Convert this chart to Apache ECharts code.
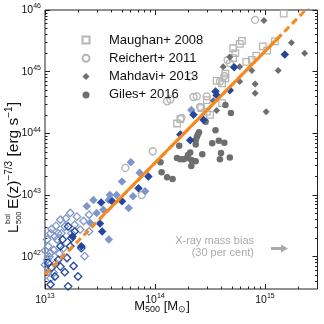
<!DOCTYPE html>
<html>
<head>
<meta charset="utf-8">
<script src="https://cdn.jsdelivr.net/npm/echarts@6/dist/echarts.min.js"></script>
<style>
html, body { margin: 0; padding: 0; background: #fff; }
#chart { width: 324px; height: 324px; }
</style>
</head>
<body>
<div id="chart"></div>
<script>
// values are log10: [log10 M500 (Msun), log10 L_bol E(z)^-7/3 (erg/s)]
const maughan2008 = [
  [15.17, 45.94], [14.79, 45.50], [14.77, 45.45], [14.73, 45.30], [14.71, 45.22],
  [14.83, 45.16], [14.88, 45.19], [14.92, 45.26], [14.98, 45.41], [15.02, 45.34],
  [15.09, 45.49], [14.64, 44.97], [14.64, 44.89], [14.61, 44.81], [14.61, 44.49],
  [14.47, 44.35], [14.42, 44.41], [14.50, 44.30], [14.20, 44.16], [14.23, 44.23],
  [14.47, 44.54], [14.56, 44.85], [14.71, 45.38]
];
const reichert2011 = [
  [14.91, 45.84], [14.32, 44.92], [14.11, 44.52], [14.14, 44.55], [14.35, 44.59],
  [14.38, 44.60], [14.24, 44.25], [14.41, 44.43], [14.47, 44.60], [13.98, 43.71],
  [13.73, 43.44], [13.88, 43.00], [14.59, 44.84], [14.63, 44.93], [14.68, 45.14],
  [14.66, 45.19]
];
const mahdavi2013 = [
  [14.99, 45.83], [15.24, 45.47], [15.36, 45.30], [15.12, 45.02], [14.88, 45.02],
  [14.91, 44.80], [14.91, 44.65], [15.01, 44.35], [14.68, 45.24], [14.62, 45.08],
  [14.77, 45.08], [14.77, 44.84], [14.53, 44.53], [14.56, 44.37]
];
const giles2016 = [
  [14.64, 44.46], [14.69, 44.33], [14.55, 44.05], [14.40, 44.02], [14.39, 43.98],
  [14.38, 43.94], [14.37, 43.89], [14.37, 43.82], [14.52, 43.84], [14.58, 43.88],
  [14.63, 43.85], [14.22, 43.80], [14.43, 43.66], [14.60, 43.68], [14.59, 43.58],
  [14.68, 43.61], [14.20, 43.60], [14.23, 43.58], [14.26, 43.58], [14.29, 43.60],
  [14.30, 43.65], [14.32, 43.69], [14.33, 43.57], [14.37, 43.55], [14.33, 43.47],
  [14.05, 43.53], [14.06, 43.37], [14.11, 43.29], [14.16, 43.26], [14.46, 44.19]
];
const blueDark = [
  [15.18, 45.28], [14.72, 45.07], [14.55, 44.68], [14.56, 44.62], [14.68, 44.70],
  [14.35, 44.30], [14.44, 44.22], [14.23, 43.98], [14.32, 43.89], [13.94, 43.30],
  [13.85, 43.11], [13.70, 42.90], [13.61, 42.90], [13.51, 42.88], [13.50, 42.54],
  [13.52, 42.41], [13.33, 42.17], [13.25, 42.33]
];
const blueLight = [
  [14.33, 44.38], [13.78, 43.53], [13.86, 43.36], [13.70, 43.22], [13.91, 43.06],
  [13.80, 42.98], [13.76, 42.79], [13.58, 42.92], [13.47, 42.71], [13.44, 42.92],
  [13.38, 42.82], [13.58, 42.28], [13.41, 42.55], [13.53, 42.76], [13.65, 43.00],
  [13.59, 43.00]
];
const openLight = [
  [13.23, 42.71], [13.15, 42.38], [13.09, 42.33], [13.03, 42.17], [13.05, 42.06],
  [13.02, 41.95], [13.03, 41.76], [13.08, 41.74], [13.05, 41.65], [13.29, 42.65],
  [13.32, 42.44], [13.36, 42.01], [13.40, 42.41], [13.40, 42.68], [13.24, 42.38],
  [13.18, 42.49], [13.11, 42.28], [13.08, 42.11], [13.05, 42.38], [13.02, 42.28],
  [13.12, 42.38], [13.17, 42.14], [13.00, 41.87], [13.06, 42.45], [13.10, 42.50],
  [13.14, 42.60], [13.19, 42.62], [13.27, 42.52], [13.35, 42.58], [13.04, 42.00],
  [13.10, 41.90], [13.00, 42.10], [13.13, 42.05]
];
const openDark = [
  [13.21, 42.49], [13.16, 42.28], [13.14, 42.17], [13.03, 41.90], [13.14, 41.84],
  [13.09, 41.68], [13.21, 41.52], [13.30, 41.68], [13.20, 41.98], [13.33, 42.14],
  [13.06, 41.82], [13.12, 41.95], [13.27, 42.41], [13.23, 42.17], [13.24, 42.30],
  [13.18, 41.75], [13.05, 41.55], [13.26, 41.85]
];
const fitDashed = [[13.0, 41.71], [15.48, 46.20]];
const fitSolid = [[13.5, 42.62], [15.15, 45.60]];

const xMajor = [13, 14, 15];
const yMajor = [42, 43, 44, 45, 46];
const xRange = [13, Math.log10(3e15)];
const yRange = [Math.log10(3e41), 46];
const legendNames = ['Maughan+ 2008', 'Reichert+ 2011', 'Mahdavi+ 2013', 'Giles+ 2016'];

const FONT = '"Liberation Sans", Arial, sans-serif';
const ORANGE = '#f5891e';
const DARKBLUE = '#24469e';
const LIGHTBLUE = '#8096cb';
const GRAY = '#6e6e6e';
const LIGHTGRAY = '#b5b5b5';

function minorTicks(range) {
  const out = [];
  for (let n = Math.floor(range[0]); n < range[1]; n++) {
    for (let k = 2; k < 10; k++) {
      const v = n + Math.log10(k);
      if (v > range[0] + 1e-6 && v < range[1] - 1e-6) out.push(v);
    }
  }
  return out;
}

const supRich = {
  b: { fontSize: 10.5, fontFamily: FONT, color: '#111' },
  s: { fontSize: 7, fontFamily: FONT, color: '#111', padding: [0, 0, 7, 0] }
};

function makeAxis(position, range, ticks, len, labels) {
  return {
    type: 'value',
    position: position,
    min: range[0],
    max: range[1],
    axisLine: { show: false },
    splitLine: { show: false },
    axisTick: { show: true, inside: true, length: len, customValues: ticks, lineStyle: { color: '#222', width: 1 } },
    axisLabel: labels ? {
      show: true, customValues: ticks, margin: 4,
      formatter: v => '{b|10}{s|' + Math.round(v) + '}', rich: supRich
    } : { show: false }
  };
}

function scatter(name, data, symbol, size, fill, stroke) {
  return {
    type: 'scatter', name: name, data: data, symbol: symbol, symbolSize: size,
    silent: true,
    itemStyle: { color: fill, borderColor: stroke || fill, borderWidth: stroke ? 1.3 : 0, opacity: 1 }
  };
}

const chart = echarts.init(document.getElementById('chart'));
chart.setOption({
  backgroundColor: '#fff',
  animation: false,
  textStyle: { fontFamily: FONT },
  grid: { left: 45, right: 6.5, top: 10, bottom: 35, show: true, borderColor: '#222', borderWidth: 1 },
  xAxis: [
    makeAxis('bottom', xRange, xMajor, 5, true),
    makeAxis('bottom', xRange, minorTicks(xRange), 2.5, false),
    makeAxis('top', xRange, xMajor, 5, false),
    makeAxis('top', xRange, minorTicks(xRange), 2.5, false)
  ],
  yAxis: [
    makeAxis('left', yRange, yMajor, 5, true),
    makeAxis('left', yRange, minorTicks(yRange), 2.5, false),
    makeAxis('right', yRange, yMajor, 5, false),
    makeAxis('right', yRange, minorTicks(yRange), 2.5, false)
  ],
  legend: {
    data: legendNames,
    orient: 'vertical', left: 76.5, top: 27,
    itemWidth: 7, itemHeight: 7, itemGap: 2.3,
    textStyle: { fontSize: 13, color: '#111', lineHeight: 16, fontFamily: FONT, padding: [0, 0, 0, 14.5] }
  },
  series: [
    scatter(legendNames[0], maughan2008, 'rect', 6.5, 'rgba(0,0,0,0)', LIGHTGRAY),
    scatter(legendNames[1], reichert2011, 'circle', 7, 'rgba(0,0,0,0)', LIGHTGRAY),
    scatter(legendNames[2], mahdavi2013, 'diamond', 7, GRAY),
    scatter(legendNames[3], giles2016, 'circle', 6.5, GRAY),
    scatter('open light', openLight, 'diamond', 7.5, 'rgba(0,0,0,0)', LIGHTBLUE),
    scatter('open dark', openDark, 'diamond', 7.5, 'rgba(0,0,0,0)', DARKBLUE),
    scatter('filled light', blueLight, 'diamond', 8.5, LIGHTBLUE),
    scatter('filled dark', blueDark, 'diamond', 8.5, DARKBLUE),
    { type: 'line', data: fitDashed, symbol: 'none', silent: true, z: 5,
      lineStyle: { color: ORANGE, width: 3, type: [7, 4] } },
    { type: 'line', data: fitSolid, symbol: 'none', silent: true, z: 6,
      lineStyle: { color: ORANGE, width: 3 } }
  ],
  graphic: [
    {
      type: 'group', x: 14, y: 233, rotation: Math.PI / 2,
      children: [
        { type: 'text', x: 0, y: 0, style: { text: 'L', font: '15px ' + FONT, fill: '#111', verticalAlign: 'middle' } },
        { type: 'text', x: 9, y: -6, style: { text: 'bol', font: '7.5px ' + FONT, fill: '#111', verticalAlign: 'middle' } },
        { type: 'text', x: 9, y: 5, style: { text: '500', font: '7.5px ' + FONT, fill: '#111', verticalAlign: 'middle' } },
        { type: 'text', x: 24, y: 0, style: {
            text: '{m|E(z)}{s|\u22127/3}{m| [erg s}{s|\u22121}{m|]}', verticalAlign: 'middle',
            rich: {
              m: { fontSize: 15.5, fontFamily: FONT, fill: '#111' },
              s: { fontSize: 10, fontFamily: FONT, fill: '#111', padding: [0, 0, 9, 0] }
            }
        } }
      ]
    },
    {
      type: 'text', left: 'center', top: 300,
      style: {
        text: '{m|M}{d|500}{m| [M}{d|\u2299}{m|]}',
        rich: {
          m: { fontSize: 13, fontFamily: FONT, fill: '#111' },
          d: { fontSize: 9, fontFamily: FONT, fill: '#111', padding: [6, 0, 0, 0] }
        }
      }
    },
    { type: 'text', x: 254, y: 241, style: { text: 'X-ray mass bias', font: '11px ' + FONT, fill: '#aaa', align: 'right', verticalAlign: 'middle' } },
    { type: 'text', x: 254, y: 252.5, style: { text: '(30 per cent)', font: '11px ' + FONT, fill: '#aaa', align: 'right', verticalAlign: 'middle' } },
    { type: 'polygon', shape: { points: [[271, 247], [281, 247], [281, 244.5], [288, 248.5], [281, 252.5], [281, 250], [271, 250]] },
      style: { fill: '#aaa' } }
  ]
});
</script>
</body>
</html>
